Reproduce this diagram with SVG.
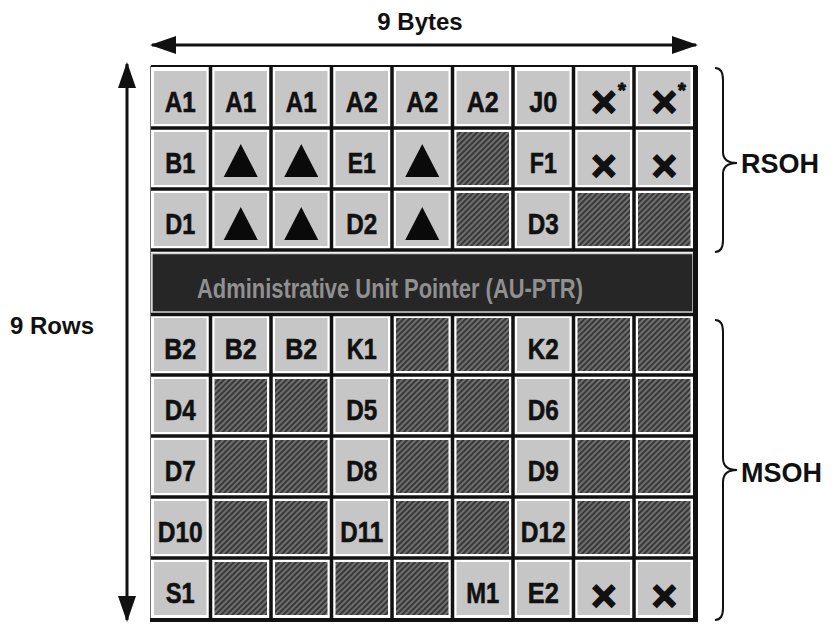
<svg xmlns="http://www.w3.org/2000/svg" width="838" height="626" viewBox="0 0 838 626">
<style>
.lt{fill:#c6c6c6}
.hx{fill:url(#hatch)}
.lbl{font-family:"Liberation Sans",Arial,sans-serif;font-weight:bold;font-size:30px;text-anchor:middle;fill:#111;stroke:#111;stroke-width:0.6}
.x{font-family:"Liberation Sans",Arial,sans-serif;font-weight:bold;font-size:44px;text-anchor:middle;fill:#111;stroke:#111;stroke-width:1.5;stroke-linejoin:round}
.star{font-size:20px;stroke-width:1}
.tri{fill:#0a0a0a}
.gl{stroke:#111;stroke-width:3.5;fill:none}
.cap{font-family:"Liberation Sans",Arial,sans-serif;font-weight:bold;fill:#111}
.arr{stroke:#111;stroke-width:3;fill:none}
.brace{stroke:#111;stroke-width:2;fill:none}
</style>
<defs>
<pattern id="hatch" patternUnits="userSpaceOnUse" width="4" height="4" patternTransform="rotate(45)">
<rect width="4" height="4" fill="#383838"/>
<line x1="1" y1="0" x2="1" y2="4" stroke="#8c8c8c" stroke-width="1.3"/>
</pattern>
<marker id="ah" markerUnits="userSpaceOnUse" markerWidth="28" markerHeight="20" refX="24" refY="9" orient="auto-start-reverse">
<path d="M0,0 L26,9 L0,18 z" fill="#111"/>
</marker>
</defs>
<rect width="838" height="626" fill="#fff"/>

<g id="cells">
<!-- Row 0 -->
<g id="r0c0"><rect class="lt" x="154" y="71" width="52.5" height="53"/><text class="lbl" x="180.25" y="112" textLength="31" lengthAdjust="spacingAndGlyphs">A1</text></g>
<g id="r0c1"><rect class="lt" x="214.5" y="71" width="52.5" height="53"/><text class="lbl" x="240.75" y="112" textLength="31" lengthAdjust="spacingAndGlyphs">A1</text></g>
<g id="r0c2"><rect class="lt" x="275" y="71" width="52.5" height="53"/><text class="lbl" x="301.25" y="112" textLength="31" lengthAdjust="spacingAndGlyphs">A1</text></g>
<g id="r0c3"><rect class="lt" x="335.5" y="71" width="52.5" height="53"/><text class="lbl" x="361.75" y="112" textLength="32" lengthAdjust="spacingAndGlyphs">A2</text></g>
<g id="r0c4"><rect class="lt" x="396" y="71" width="52.5" height="53"/><text class="lbl" x="422.25" y="112" textLength="32" lengthAdjust="spacingAndGlyphs">A2</text></g>
<g id="r0c5"><rect class="lt" x="456.5" y="71" width="52.5" height="53"/><text class="lbl" x="482.75" y="112" textLength="32" lengthAdjust="spacingAndGlyphs">A2</text></g>
<g id="r0c6"><rect class="lt" x="517" y="71" width="52.5" height="53"/><text class="lbl" x="543.25" y="112" textLength="28" lengthAdjust="spacingAndGlyphs">J0</text></g>
<g id="r0c7"><rect class="lt" x="577.5" y="71" width="52.5" height="53"/><text class="x" x="603.75" y="117">×<tspan class="star" x="622" y="97">*</tspan></text></g>
<g id="r0c8"><rect class="lt" x="638" y="71" width="52.5" height="53"/><text class="x" x="664.25" y="117">×<tspan class="star" x="682" y="97">*</tspan></text></g>
<!-- Row 1 -->
<g id="r1c0"><rect class="lt" x="154" y="132" width="52.5" height="53"/><text class="lbl" x="180.25" y="173" textLength="30" lengthAdjust="spacingAndGlyphs">B1</text></g>
<g id="r1c1"><rect class="lt" x="214.5" y="132" width="52.5" height="53"/><path class="tri" d="M240.75,144 L257.75,177 L223.75,177 z"/></g>
<g id="r1c2"><rect class="lt" x="275" y="132" width="52.5" height="53"/><path class="tri" d="M301.25,144 L318.25,177 L284.25,177 z"/></g>
<g id="r1c3"><rect class="lt" x="335.5" y="132" width="52.5" height="53"/><text class="lbl" x="361.75" y="173" textLength="28" lengthAdjust="spacingAndGlyphs">E1</text></g>
<g id="r1c4"><rect class="lt" x="396" y="132" width="52.5" height="53"/><path class="tri" d="M422.25,144 L439.25,177 L405.25,177 z"/></g>
<g id="r1c5"><rect class="hx" x="456.5" y="132" width="52.5" height="53"/></g>
<g id="r1c6"><rect class="lt" x="517" y="132" width="52.5" height="53"/><text class="lbl" x="543.25" y="173" textLength="27" lengthAdjust="spacingAndGlyphs">F1</text></g>
<g id="r1c7"><rect class="lt" x="577.5" y="132" width="52.5" height="53"/><text class="x" x="603.75" y="181">×</text></g>
<g id="r1c8"><rect class="lt" x="638" y="132" width="52.5" height="53"/><text class="x" x="664.25" y="181">×</text></g>
<!-- Row 2 -->
<g id="r2c0"><rect class="lt" x="154" y="193" width="52.5" height="53"/><text class="lbl" x="180.25" y="234" textLength="30" lengthAdjust="spacingAndGlyphs">D1</text></g>
<g id="r2c1"><rect class="lt" x="214.5" y="193" width="52.5" height="53"/><path class="tri" d="M240.75,207 L257.75,240 L223.75,240 z"/></g>
<g id="r2c2"><rect class="lt" x="275" y="193" width="52.5" height="53"/><path class="tri" d="M301.25,207 L318.25,240 L284.25,240 z"/></g>
<g id="r2c3"><rect class="lt" x="335.5" y="193" width="52.5" height="53"/><text class="lbl" x="361.75" y="234" textLength="31" lengthAdjust="spacingAndGlyphs">D2</text></g>
<g id="r2c4"><rect class="lt" x="396" y="193" width="52.5" height="53"/><path class="tri" d="M422.25,207 L439.25,240 L405.25,240 z"/></g>
<g id="r2c5"><rect class="hx" x="456.5" y="193" width="52.5" height="53"/></g>
<g id="r2c6"><rect class="lt" x="517" y="193" width="52.5" height="53"/><text class="lbl" x="543.25" y="234" textLength="31" lengthAdjust="spacingAndGlyphs">D3</text></g>
<g id="r2c7"><rect class="hx" x="577.5" y="193" width="52.5" height="53"/></g>
<g id="r2c8"><rect class="hx" x="638" y="193" width="52.5" height="53"/></g>
<!-- AU pointer row -->
<g id="au-ptr"><rect x="152" y="253.5" width="541" height="58.5" fill="#262626" stroke="#cfcfcf" stroke-width="1.5"/><text class="cap" x="390" y="298" font-size="28" text-anchor="middle" textLength="386" lengthAdjust="spacingAndGlyphs" style="fill:#909090">Administrative Unit Pointer (AU-PTR)</text></g>
<!-- Row 4 -->
<g id="r4c0"><rect class="lt" x="154" y="318" width="52.5" height="53"/><text class="lbl" x="180.25" y="359" textLength="32" lengthAdjust="spacingAndGlyphs">B2</text></g>
<g id="r4c1"><rect class="lt" x="214.5" y="318" width="52.5" height="53"/><text class="lbl" x="240.75" y="359" textLength="32" lengthAdjust="spacingAndGlyphs">B2</text></g>
<g id="r4c2"><rect class="lt" x="275" y="318" width="52.5" height="53"/><text class="lbl" x="301.25" y="359" textLength="32" lengthAdjust="spacingAndGlyphs">B2</text></g>
<g id="r4c3"><rect class="lt" x="335.5" y="318" width="52.5" height="53"/><text class="lbl" x="361.75" y="359" textLength="30" lengthAdjust="spacingAndGlyphs">K1</text></g>
<g id="r4c4"><rect class="hx" x="396" y="318" width="52.5" height="53"/></g>
<g id="r4c5"><rect class="hx" x="456.5" y="318" width="52.5" height="53"/></g>
<g id="r4c6"><rect class="lt" x="517" y="318" width="52.5" height="53"/><text class="lbl" x="543.25" y="359" textLength="31" lengthAdjust="spacingAndGlyphs">K2</text></g>
<g id="r4c7"><rect class="hx" x="577.5" y="318" width="52.5" height="53"/></g>
<g id="r4c8"><rect class="hx" x="638" y="318" width="52.5" height="53"/></g>
<!-- Row 5 -->
<g id="r5c0"><rect class="lt" x="154" y="379" width="52.5" height="53"/><text class="lbl" x="180.25" y="420" textLength="31" lengthAdjust="spacingAndGlyphs">D4</text></g>
<g id="r5c1"><rect class="hx" x="214.5" y="379" width="52.5" height="53"/></g>
<g id="r5c2"><rect class="hx" x="275" y="379" width="52.5" height="53"/></g>
<g id="r5c3"><rect class="lt" x="335.5" y="379" width="52.5" height="53"/><text class="lbl" x="361.75" y="420" textLength="31" lengthAdjust="spacingAndGlyphs">D5</text></g>
<g id="r5c4"><rect class="hx" x="396" y="379" width="52.5" height="53"/></g>
<g id="r5c5"><rect class="hx" x="456.5" y="379" width="52.5" height="53"/></g>
<g id="r5c6"><rect class="lt" x="517" y="379" width="52.5" height="53"/><text class="lbl" x="543.25" y="420" textLength="31" lengthAdjust="spacingAndGlyphs">D6</text></g>
<g id="r5c7"><rect class="hx" x="577.5" y="379" width="52.5" height="53"/></g>
<g id="r5c8"><rect class="hx" x="638" y="379" width="52.5" height="53"/></g>
<!-- Row 6 -->
<g id="r6c0"><rect class="lt" x="154" y="440" width="52.5" height="53"/><text class="lbl" x="180.25" y="481" textLength="31" lengthAdjust="spacingAndGlyphs">D7</text></g>
<g id="r6c1"><rect class="hx" x="214.5" y="440" width="52.5" height="53"/></g>
<g id="r6c2"><rect class="hx" x="275" y="440" width="52.5" height="53"/></g>
<g id="r6c3"><rect class="lt" x="335.5" y="440" width="52.5" height="53"/><text class="lbl" x="361.75" y="481" textLength="31" lengthAdjust="spacingAndGlyphs">D8</text></g>
<g id="r6c4"><rect class="hx" x="396" y="440" width="52.5" height="53"/></g>
<g id="r6c5"><rect class="hx" x="456.5" y="440" width="52.5" height="53"/></g>
<g id="r6c6"><rect class="lt" x="517" y="440" width="52.5" height="53"/><text class="lbl" x="543.25" y="481" textLength="31" lengthAdjust="spacingAndGlyphs">D9</text></g>
<g id="r6c7"><rect class="hx" x="577.5" y="440" width="52.5" height="53"/></g>
<g id="r6c8"><rect class="hx" x="638" y="440" width="52.5" height="53"/></g>
<!-- Row 7 -->
<g id="r7c0"><rect class="lt" x="154" y="501" width="52.5" height="53"/><text class="lbl" x="180.25" y="542" textLength="45" lengthAdjust="spacingAndGlyphs">D10</text></g>
<g id="r7c1"><rect class="hx" x="214.5" y="501" width="52.5" height="53"/></g>
<g id="r7c2"><rect class="hx" x="275" y="501" width="52.5" height="53"/></g>
<g id="r7c3"><rect class="lt" x="335.5" y="501" width="52.5" height="53"/><text class="lbl" x="361.75" y="542" textLength="43" lengthAdjust="spacingAndGlyphs">D11</text></g>
<g id="r7c4"><rect class="hx" x="396" y="501" width="52.5" height="53"/></g>
<g id="r7c5"><rect class="hx" x="456.5" y="501" width="52.5" height="53"/></g>
<g id="r7c6"><rect class="lt" x="517" y="501" width="52.5" height="53"/><text class="lbl" x="543.25" y="542" textLength="45" lengthAdjust="spacingAndGlyphs">D12</text></g>
<g id="r7c7"><rect class="hx" x="577.5" y="501" width="52.5" height="53"/></g>
<g id="r7c8"><rect class="hx" x="638" y="501" width="52.5" height="53"/></g>
<!-- Row 8 -->
<g id="r8c0"><rect class="lt" x="154" y="562" width="52.5" height="53"/><text class="lbl" x="180.25" y="603" textLength="29" lengthAdjust="spacingAndGlyphs">S1</text></g>
<g id="r8c1"><rect class="hx" x="214.5" y="562" width="52.5" height="53"/></g>
<g id="r8c2"><rect class="hx" x="275" y="562" width="52.5" height="53"/></g>
<g id="r8c3"><rect class="hx" x="335.5" y="562" width="52.5" height="53"/></g>
<g id="r8c4"><rect class="hx" x="396" y="562" width="52.5" height="53"/></g>
<g id="r8c5"><rect class="lt" x="456.5" y="562" width="52.5" height="53"/><text class="lbl" x="482.75" y="603" textLength="33" lengthAdjust="spacingAndGlyphs">M1</text></g>
<g id="r8c6"><rect class="lt" x="517" y="562" width="52.5" height="53"/><text class="lbl" x="543.25" y="603" textLength="31" lengthAdjust="spacingAndGlyphs">E2</text></g>
<g id="r8c7"><rect class="lt" x="577.5" y="562" width="52.5" height="53"/><text class="x" x="603.75" y="611">×</text></g>
<g id="r8c8"><rect class="lt" x="638" y="562" width="52.5" height="53"/><text class="x" x="664.25" y="611">×</text></g>
</g>

<g id="gridlines">
<path class="gl" d="M210.5,67 V250 M271,67 V250 M331.5,67 V250 M392,67 V250 M452.5,67 V250 M513,67 V250 M573.5,67 V250 M634,67 V250"/>
<path class="gl" d="M210.5,314 V619 M271,314 V619 M331.5,314 V619 M392,314 V619 M452.5,314 V619 M513,314 V619 M573.5,314 V619 M634,314 V619"/>
<path class="gl" d="M150,128 H696 M150,189 H696 M150,250 H696 M150,314.5 H696 M150,375 H696 M150,436 H696 M150,497 H696 M150,558 H696"/>
<path d="M151,66 H697" stroke="#111" stroke-width="2" fill="none"/>
<path d="M150.5,66 V621" stroke="#777" stroke-width="1" fill="none"/>
<path d="M695.5,66 V622" stroke="#111" stroke-width="5" fill="none"/>
<path d="M150,620 H698" stroke="#111" stroke-width="4" fill="none"/>
</g>

<g id="connectors">
<path class="arr" d="M152,45 H696" marker-start="url(#ah)" marker-end="url(#ah)"/>
<path class="arr" d="M127,64 V620" marker-start="url(#ah)" marker-end="url(#ah)"/>
<path class="brace" d="M715,68 Q723,68 723,80 L723,152 Q723,163 737,163 Q723,163 723,174 L723,240 Q723,252 715,252"/>
<path class="brace" d="M715,320 Q723,320 723,332 L723,458 Q723,470 737,470 Q723,470 723,482 L723,608 Q723,620 715,620"/>
</g>

<g id="labels">
<text class="cap" x="420" y="30" font-size="24" text-anchor="middle">9 Bytes</text>
<text class="cap" x="10" y="334" font-size="24">9 Rows</text>
<text class="cap" x="741" y="173" font-size="27">RSOH</text>
<text class="cap" x="741" y="482" font-size="27">MSOH</text>
</g>
</svg>
